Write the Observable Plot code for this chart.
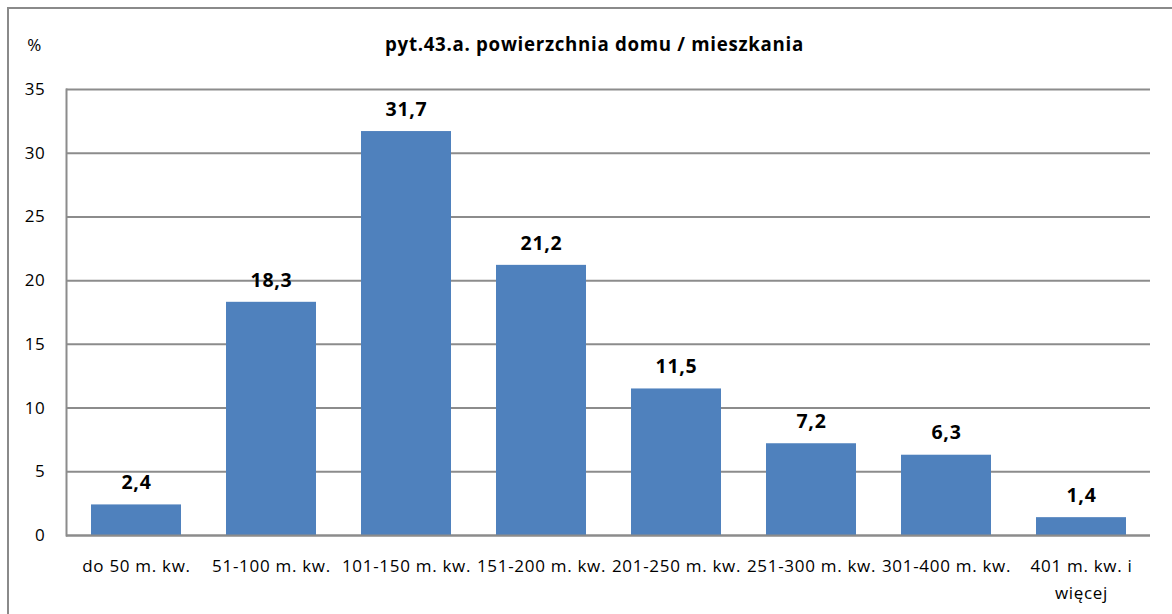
<!DOCTYPE html>
<html><head><meta charset="utf-8">
<script src="https://cdn.jsdelivr.net/npm/d3@7"></script>
<script src="https://cdn.jsdelivr.net/npm/@observablehq/plot@0.6"></script>
<style>
body{margin:0;background:#fff;}
#wrap{position:relative;width:1172px;height:614px;overflow:hidden;}
#border{position:absolute;left:7px;top:7px;width:1200px;height:700px;border-left:2px solid #8a8a8a;border-top:2px solid #8a8a8a;}
#chart{position:absolute;left:0;top:0;}
#chart svg text{letter-spacing:0.7px;}
</style></head><body>
<div id="wrap"><div id="border"></div><div id="chart"></div></div>
<script>
const categories = ["do 50 m. kw.","51-100 m. kw.","101-150 m. kw.","151-200 m. kw.","201-250 m. kw.","251-300 m. kw.","301-400 m. kw.","401 m. kw. i\nwięcej"];
const values = [2.4, 18.3, 31.7, 21.2, 11.5, 7.2, 6.3, 1.4];
const yTicks = [0, 5, 10, 15, 20, 25, 30, 35];
const title = "pyt.43.a. powierzchnia domu / mieszkania";
const yLabel = "%";

const data = categories.map((c, i) => ({category: c, value: values[i], label: String(values[i]).replace(".", ",")}));

const chart = Plot.plot({
  width: 1172,
  height: 614,
  marginLeft: 66,
  marginRight: 22,
  marginTop: 89,
  marginBottom: 79,
  style: {fontFamily: "'Open Sans', Lato, sans-serif", fontSize: "17px", color: "#000", background: "transparent"},
  x: {domain: categories, paddingInner: 0.336, paddingOuter: 0.168, axis: null},
  y: {domain: [0, 35], ticks: yTicks, axis: null},
  marks: [
    Plot.gridY(yTicks, {stroke: "#8c8c8c", strokeWidth: 2, strokeOpacity: 1}),
    Plot.barY(data, {x: "category", y: "value", fill: "#4F81BD"}),
    Plot.ruleY([0], {stroke: "#8c8c8c", strokeWidth: 2}),
    Plot.frame({anchor: "left", stroke: "#8c8c8c", strokeWidth: 2}),
    Plot.text(data, {x: "category", y: "value", text: "label", dy: -22, fontWeight: "bold", fontSize: 19.5, fill: "#000"}),
    Plot.axisY(yTicks, {tickSize: 0, tickPadding: 21, fontSize: 17, label: null, fill: "#000"}),
    Plot.text(categories, {x: d => d, text: d => d, frameAnchor: "bottom", lineAnchor: "top", dy: 17, lineHeight: 1.6, fontSize: 17, fill: "#000"}),
    Plot.text([title], {frameAnchor: "top", lineAnchor: "middle", dx: -14, dy: -44, fontWeight: "bold", fontSize: 18.7, fill: "#000"}),
    Plot.text([yLabel], {frameAnchor: "top-left", lineAnchor: "middle", textAnchor: "middle", dx: -32, dy: -44, fontSize: 17, fill: "#000"})
  ]
});
document.getElementById("chart").appendChild(chart);
</script>
</body></html>
